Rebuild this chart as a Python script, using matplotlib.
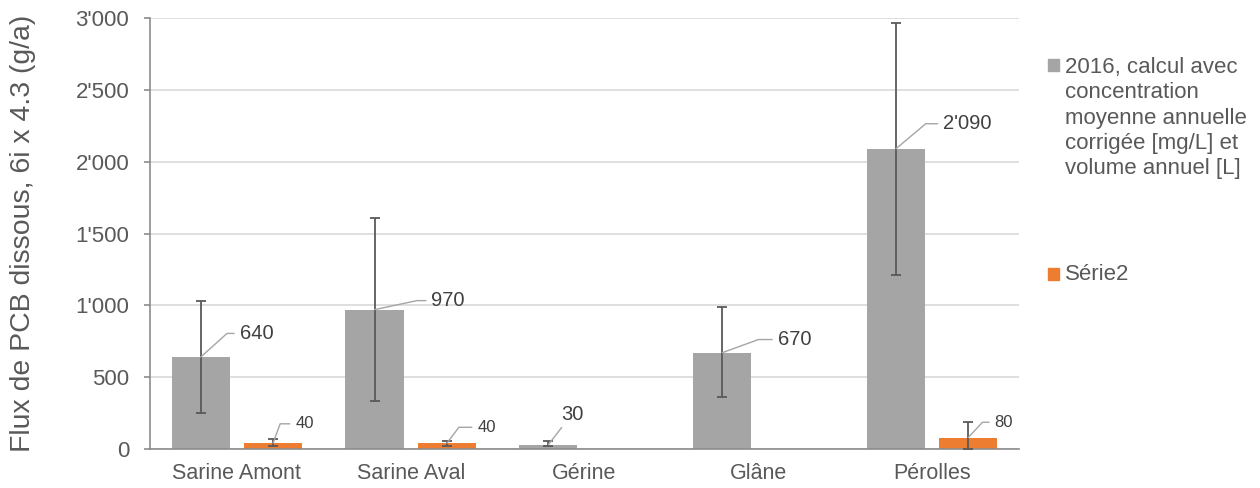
import numpy as np
import matplotlib.pyplot as plt
from matplotlib.patches import Rectangle
from matplotlib.ticker import FuncFormatter

plt.rcParams['font.family'] = ['Liberation Sans', 'DejaVu Sans']

# data
stations = ['Sarine Amont', 'Sarine Aval', 'Gérine', 'Glâne', 'Pérolles']
flux_2016 = [640, 970, 30, 670, 2090]
err_lo_2016 = [250, 335, 20, 360, 1210]     # lower end of error bar
err_hi_2016 = [1030, 1610, 55, 985, 2965]   # upper end of error bar
serie2 = [40, 40, np.nan, np.nan, 80]
err_lo_s2 = [20, 20, np.nan, np.nan, 0]
err_hi_s2 = [68, 56, np.nan, np.nan, 185]

legend_1 = '2016, calcul avec\nconcentration\nmoyenne annuelle\ncorrigée [mg/L] et\nvolume annuel [L]'
legend_2 = 'Série2'

GREY = '#A5A5A5'
ORANGE = '#ED7D31'
TXT = '#595959'

def fmt(v, pos=None):
    return '{:,.0f}'.format(v).replace(',', "'")

fig = plt.figure(figsize=(12.6, 4.88), dpi=100)
ax = fig.add_axes([150/1260, 1-449/488, 869/1260, 431/488])

x = np.arange(len(stations))
w = 0.335
off = 0.208

v1 = np.array(flux_2016, float)
v2 = np.array(serie2, float)
e1 = [v1 - np.array(err_lo_2016), np.array(err_hi_2016) - v1]
e2 = [v2 - np.array(err_lo_s2), np.array(err_hi_s2) - v2]

ax.bar(x - off, v1, w, color=GREY, zorder=2)
ax.bar(x + off, np.nan_to_num(v2), w, color=ORANGE, zorder=2)
ax.errorbar(x - off, v1, yerr=e1, fmt='none', ecolor='#595959', elinewidth=1.3,
            capsize=3.3, capthick=1.3, zorder=3)
ax.errorbar(x + off, v2, yerr=e2, fmt='none', ecolor='#595959', elinewidth=1.3,
            capsize=3.3, capthick=1.3, zorder=3)

ax.set_xlim(-0.5, len(stations) - 0.5)
ax.set_ylim(0, 3000)
ax.set_yticks(np.arange(0, 3001, 500))
ax.yaxis.set_major_formatter(FuncFormatter(fmt))
ax.set_xticks(x)
ax.set_xticklabels(stations)
ax.grid(axis='y', color='#D9D9D9', linewidth=1.2, zorder=0)
ax.set_axisbelow(True)
for s in ['top', 'right']:
    ax.spines[s].set_visible(False)
for s in ['left', 'bottom']:
    ax.spines[s].set_color('#8C8C8C')
    ax.spines[s].set_linewidth(1.2)
ax.tick_params(axis='y', length=4, width=1.2, color='#8C8C8C', pad=11,
               labelsize=16, labelcolor=TXT)
ax.tick_params(axis='x', length=0, pad=10, labelsize=15.5, labelcolor=TXT)

fig.text(23/1260, 1-233/488, 'Flux de PCB dissous, 6i x 4.3 (g/a)', rotation=90,
         ha='center', va='center', fontsize=20.4, color=TXT)

# data labels with leader lines (offset in points, leader angle)
lab1 = [(28, 17, 42), (41, 6.5, 12), (17, 22, None), (40, 9.5, 20), (34, 18, 40)]
for i, (dx, dy, ang) in enumerate(lab1):
    if ang is None:
        ax.annotate(fmt(v1[i]), xy=(x[i] - off, v1[i]), xytext=(dx, dy),
                    textcoords='offset points', ha='center', va='center',
                    fontsize=14.5, color='#404040',
                    arrowprops=dict(arrowstyle='-', color='#A5A5A5', lw=1,
                                    shrinkA=1, shrinkB=0))
    else:
        ax.annotate(fmt(v1[i]), xy=(x[i] - off, v1[i]), xytext=(dx, dy),
                    textcoords='offset points', ha='left', va='center',
                    fontsize=14.5, color='#404040',
                    arrowprops=dict(arrowstyle='-', color='#A5A5A5', lw=1,
                                    shrinkA=2, shrinkB=0,
                                    connectionstyle='angle,angleA=0,angleB=%d,rad=0' % ang))

lab2 = [(16, 14, 70), (22, 11.5, 53), None, None, (19, 11, 47)]
for i, p in enumerate(lab2):
    if p is None or np.isnan(v2[i]):
        continue
    dx, dy, ang = p
    ax.annotate(fmt(v2[i]), xy=(x[i] + off, v2[i]), xytext=(dx, dy),
                textcoords='offset points', ha='left', va='center',
                fontsize=12, color='#404040',
                arrowprops=dict(arrowstyle='-', color='#A5A5A5', lw=1,
                                shrinkA=2, shrinkB=0,
                                connectionstyle='angle,angleA=0,angleB=%d,rad=0' % ang))

# legend
fig.add_artist(Rectangle((1048/1260, 1-71/488), 11/1260, 12/488, color=GREY,
                         transform=fig.transFigure))
fig.text(1065/1260, 1-57/488, legend_1, ha='left', va='top', fontsize=16,
         color=TXT, linespacing=1.27, transform=fig.transFigure)
fig.add_artist(Rectangle((1048/1260, 1-280/488), 11/1260, 12/488, color=ORANGE,
                         transform=fig.transFigure))
fig.text(1065/1260, 1-274/488, legend_2, ha='left', va='center', fontsize=16,
         color=TXT, transform=fig.transFigure)

fig.savefig('out.png', dpi=100)
